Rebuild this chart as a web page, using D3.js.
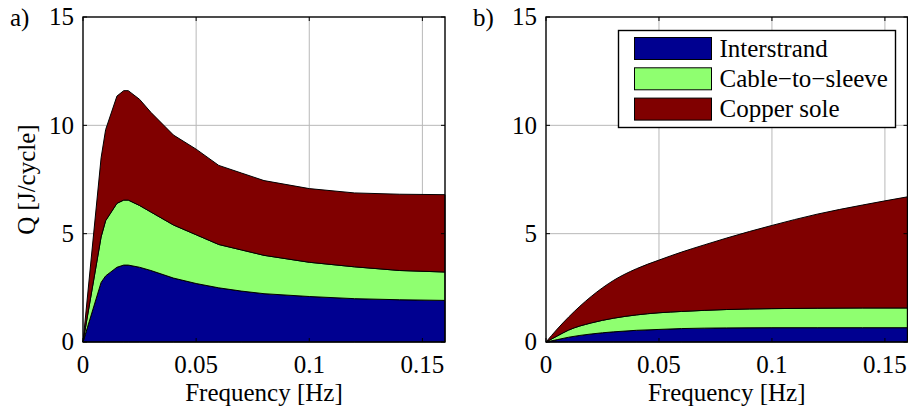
<!DOCTYPE html>
<html>
<head>
<meta charset="utf-8">
<script src="https://cdn.jsdelivr.net/npm/d3@7"></script>
<style>
	body { margin: 0; background: #fff; }
	svg { display: block; }
	svg text { font-family: 'Liberation Serif', 'DejaVu Serif', serif; }
</style>
</head>
<body>
<svg id="chart" width="908" height="409"></svg>
<script>
/* Data */
const keys = ['Interstrand', 'Cable\u2212to\u2212sleeve', 'Copper sole'];
const colors = ['#000090', '#8fff70', '#800000'];

// panel a)
const freqA = [0, 0.008, 0.01, 0.015, 0.018, 0.02, 0.025, 0.03, 0.04, 0.05, 0.06, 0.07, 0.08, 0.1, 0.12, 0.14, 0.16];
const interA = [0, 2.75, 3.05, 3.45, 3.55, 3.55, 3.45, 3.3, 2.95, 2.7, 2.5, 2.35, 2.23, 2.1, 2.0, 1.95, 1.92];
const cableA = [0, 2.1, 2.55, 2.95, 3.0, 3.0, 2.85, 2.7, 2.45, 2.25, 2.0, 1.9, 1.77, 1.58, 1.47, 1.35, 1.31];
const copperA = [0, 3.65, 4.2, 4.95, 5.05, 5.05, 4.9, 4.6, 4.15, 3.95, 3.65, 3.55, 3.45, 3.4, 3.41, 3.52, 3.57];

// panel b)
const freqB = [0, 0.005, 0.01, 0.02, 0.03, 0.04, 0.05, 0.06, 0.07, 0.08, 0.1, 0.12, 0.14, 0.16];
const interB = [0, 0.11, 0.22, 0.37, 0.47, 0.54, 0.58, 0.62, 0.64, 0.65, 0.66, 0.66, 0.66, 0.66];
const cableB = [0, 0.17, 0.33, 0.51, 0.63, 0.71, 0.77, 0.79, 0.82, 0.85, 0.88, 0.9, 0.91, 0.91];
const copperB = [0, 0.32, 0.6, 1.22, 1.75, 2.13, 2.43, 2.74, 3.02, 3.3, 3.84, 4.34, 4.75, 5.13];

const xTicks = [0, 0.05, 0.1, 0.15];
const yTicks = [0, 5, 10, 15];

const svg = d3.select('#chart');
const plotTop = 17, plotBottom = 342;
const fs = 25;

function drawPanel(opts) {
	const x = d3.scaleLinear().domain([0, 0.16]).range([opts.x0, opts.x1]);
	const y = d3.scaleLinear().domain([0, 15]).range([plotBottom, plotTop]);
	const g = svg.append('g');

	// rows for the stack
	const rows = opts.freq.map((f, i) => ({
		f: f,
		[keys[0]]: opts.series[0][i],
		[keys[1]]: opts.series[1][i],
		[keys[2]]: opts.series[2][i]
	}));
	const stacked = d3.stack().keys(keys)(rows);

	// grid
	g.selectAll('.gx').data(xTicks.slice(1)).join('line')
		.attr('x1', d => x(d)).attr('x2', d => x(d))
		.attr('y1', plotTop).attr('y2', plotBottom)
		.attr('stroke', '#b8b8b8').attr('stroke-width', 1);
	g.selectAll('.gy').data(yTicks.slice(1, -1)).join('line')
		.attr('y1', d => y(d)).attr('y2', d => y(d))
		.attr('x1', opts.x0).attr('x2', opts.x1)
		.attr('stroke', '#b8b8b8').attr('stroke-width', 1);

	const area = d3.area()
		.curve(opts.curve)
		.x(d => x(d.data.f))
		.y0(d => y(d[0]))
		.y1(d => y(d[1]));

	g.selectAll('.layer').data(stacked).join('path')
		.attr('d', area)
		.attr('fill', (d, i) => colors[i])
		.attr('stroke', '#000')
		.attr('stroke-width', 1)
		.attr('stroke-linejoin', 'round');

	// ticks inside, all four sides
	const tl = 4;
	xTicks.forEach(t => {
		g.append('line').attr('x1', x(t)).attr('x2', x(t)).attr('y1', plotBottom).attr('y2', plotBottom - tl).attr('stroke', '#000');
		g.append('line').attr('x1', x(t)).attr('x2', x(t)).attr('y1', plotTop).attr('y2', plotTop + tl).attr('stroke', '#000');
	});
	yTicks.forEach(t => {
		g.append('line').attr('x1', opts.x0).attr('x2', opts.x0 + tl).attr('y1', y(t)).attr('y2', y(t)).attr('stroke', '#000');
		g.append('line').attr('x1', opts.x1).attr('x2', opts.x1 - tl).attr('y1', y(t)).attr('y2', y(t)).attr('stroke', '#000');
	});

	// frame
	g.append('rect')
		.attr('x', opts.x0).attr('y', plotTop)
		.attr('width', opts.x1 - opts.x0).attr('height', plotBottom - plotTop)
		.attr('fill', 'none').attr('stroke', '#000').attr('stroke-width', 1.4);

	// tick labels
	g.selectAll('.xl').data(xTicks).join('text')
		.attr('x', d => x(d)).attr('y', 373)
		.attr('text-anchor', 'middle')
		.attr('font-size', fs)
		.text(d => d3.format('~g')(d));
	g.selectAll('.yl').data(yTicks).join('text')
		.attr('x', opts.x0 - 9).attr('y', d => y(d))
		.attr('dy', '0.33em')
		.attr('text-anchor', 'end')
		.attr('font-size', fs)
		.text(d => d);

	// axis labels
	g.append('text')
		.attr('x', (opts.x0 + opts.x1) / 2).attr('y', 401)
		.attr('text-anchor', 'middle').attr('font-size', fs)
		.text('Frequency [Hz]');
	if (opts.ylabel) {
		g.append('text')
			.attr('transform', `translate(35, ${(plotTop + plotBottom) / 2}) rotate(-90)`)
			.attr('text-anchor', 'middle').attr('font-size', fs)
			.text(opts.ylabel);
	}

	// panel letter
	g.append('text')
		.attr('x', opts.x0 - 73).attr('y', 26)
		.attr('font-size', fs)
		.text(opts.letter);

	return g;
}

drawPanel({ x0: 83, x1: 445, freq: freqA, series: [interA, cableA, copperA], curve: d3.curveLinear, ylabel: 'Q [J/cycle]', letter: 'a)' });
const gb = drawPanel({ x0: 546, x1: 907.5, freq: freqB, series: [interB, cableB, copperB], curve: d3.curveMonotoneX, letter: 'b)' });

// legend (panel b)
const lg = gb.append('g').attr('transform', 'translate(618.5, 30.5)');
lg.append('rect').attr('width', 277).attr('height', 97)
	.attr('fill', '#fff').attr('stroke', '#000').attr('stroke-width', 1.4);
keys.forEach((k, i) => {
	lg.append('rect')
		.attr('x', 16).attr('y', 7 + i * 30.3)
		.attr('width', 77).attr('height', 22)
		.attr('fill', colors[i]).attr('stroke', '#000').attr('stroke-width', 1);
	lg.append('text')
		.attr('x', 101).attr('y', 7 + i * 30.3 + 19)
		.attr('font-size', fs)
		.text(k);
});
</script>
</body>
</html>
